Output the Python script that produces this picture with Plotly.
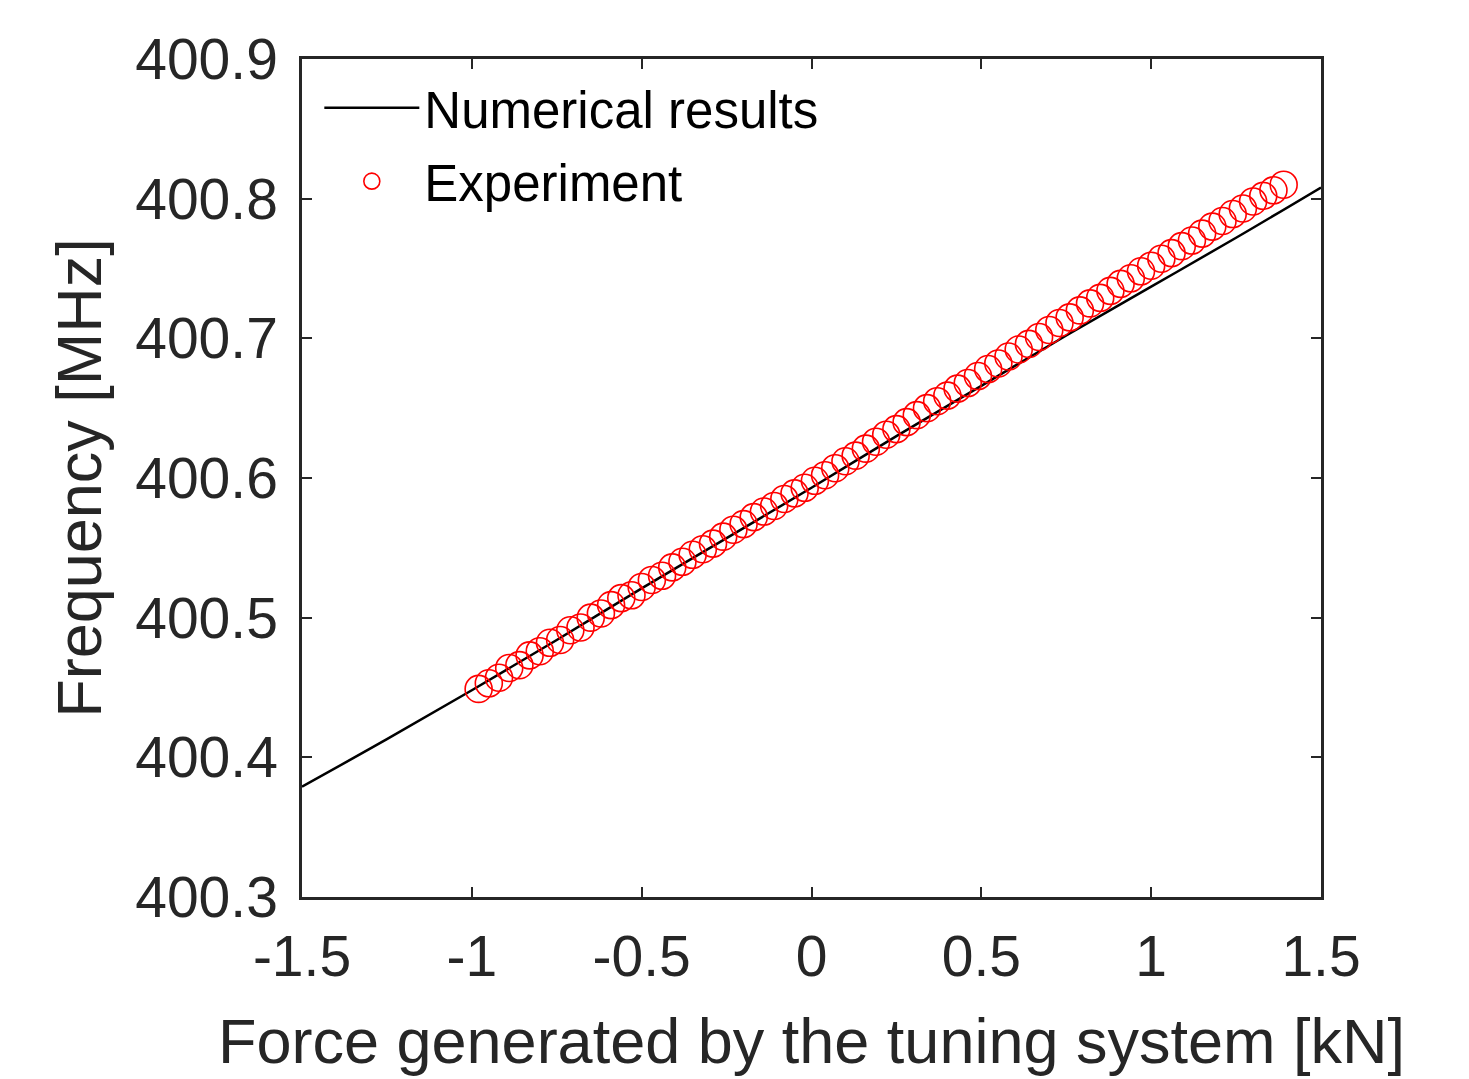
import plotly.graph_objects as go

# Numerical results (force in kN, frequency in MHz)
num_force = [-1.5, -1.25, -1.0, -0.75, -0.5, -0.25, 0.0, 0.25, 0.5, 0.75, 1.0, 1.25, 1.5]
num_freq = [400.379, 400.413, 400.448, 400.484, 400.521, 400.557, 400.593,
            400.630, 400.666, 400.702, 400.737, 400.772, 400.808]

# Experiment
exp_force = [-0.98, -0.95, -0.92, -0.89, -0.86, -0.83, -0.80, -0.77, -0.74, -0.71,
             -0.68, -0.65, -0.62, -0.59, -0.56, -0.53, -0.50, -0.47, -0.44, -0.41,
             -0.38, -0.35, -0.32, -0.29, -0.26, -0.23, -0.20, -0.17, -0.14, -0.11,
             -0.08, -0.05, -0.02, 0.01, 0.04, 0.07, 0.10, 0.13, 0.16, 0.19,
             0.22, 0.25, 0.28, 0.31, 0.34, 0.37, 0.40, 0.43, 0.46, 0.49,
             0.52, 0.55, 0.58, 0.61, 0.64, 0.67, 0.70, 0.73, 0.76, 0.79,
             0.82, 0.85, 0.88, 0.91, 0.94, 0.97, 1.00, 1.03, 1.06, 1.09,
             1.12, 1.15, 1.18, 1.21, 1.24, 1.27, 1.30, 1.33, 1.36, 1.39]
exp_freq = [400.449, 400.453, 400.457, 400.464, 400.466, 400.473, 400.476, 400.482, 400.484, 400.491,
            400.493, 400.500, 400.503, 400.509, 400.514, 400.516, 400.522, 400.527, 400.530, 400.536,
            400.540, 400.545, 400.549, 400.553, 400.558, 400.563, 400.567, 400.572, 400.576, 400.580,
            400.585, 400.589, 400.593, 400.598, 400.602, 400.607, 400.612, 400.616, 400.621, 400.626,
            400.631, 400.635, 400.640, 400.645, 400.650, 400.655, 400.659, 400.664, 400.668, 400.673,
            400.678, 400.682, 400.687, 400.692, 400.696, 400.701, 400.706, 400.711, 400.715, 400.720,
            400.725, 400.729, 400.734, 400.739, 400.743, 400.748, 400.752, 400.757, 400.761, 400.766,
            400.770, 400.775, 400.780, 400.784, 400.789, 400.793, 400.798, 400.802, 400.806, 400.810]

x_ticks = [-1.5, -1, -0.5, 0, 0.5, 1, 1.5]
x_tick_text = ["-1.5", "-1", "-0.5", "0", "0.5", "1", "1.5"]
y_ticks = [400.3, 400.4, 400.5, 400.6, 400.7, 400.8, 400.9]
y_tick_text = ["400.3", "400.4", "400.5", "400.6", "400.7", "400.8", "400.9"]

FONT = "Liberation Sans, Arial, sans-serif"
AX = "#262626"

fig = go.Figure()
fig.add_trace(go.Scatter(
    x=num_force, y=num_freq, mode="lines", name="Numerical results",
    legendgroup="a",
    line=dict(color="black", width=2.5, shape="spline"),
))
fig.add_trace(go.Scatter(
    x=exp_force, y=exp_freq, mode="markers", name="Experiment",
    legendgroup="b",
    marker=dict(symbol="circle-open", size=27, color="red", line=dict(width=1.6, color="red")),
))

axis_common = dict(
    showline=True, linecolor=AX, linewidth=2.5, mirror="ticks",
    ticks="inside", ticklen=10, tickwidth=2, tickcolor=AX,
    showgrid=False, zeroline=False, automargin=False,
    tickfont=dict(family=FONT, size=57, color=AX),
)

fig.update_layout(
    width=1469, height=1079,
    paper_bgcolor="white", plot_bgcolor="white",
    margin=dict(l=294, r=156, t=51, b=190),
    font=dict(family=FONT, color=AX),
    xaxis=dict(range=[-1.5, 1.5], tickvals=x_ticks, ticktext=x_tick_text,
               title=dict(text="Force generated by the tuning system [kN]",
                          font=dict(family=FONT, size=63, color=AX), standoff=32),
               ticklabelstandoff=8, **axis_common),
    yaxis=dict(range=[400.3, 400.9], tickvals=y_ticks, ticktext=y_tick_text,
               title=dict(text="Frequency [MHz]",
                          font=dict(family=FONT, size=63, color=AX), standoff=14),
               ticklabelstandoff=10, **axis_common),
    legend=dict(x=0.017, y=0.989, xanchor="left", yanchor="top",
                bgcolor="rgba(255,255,255,0)", borderwidth=0,
                font=dict(family=FONT, size=51, color="black"),
                itemwidth=95, tracegroupgap=4, traceorder="grouped"),
    showlegend=True,
)

fig.write_html("out.html")
